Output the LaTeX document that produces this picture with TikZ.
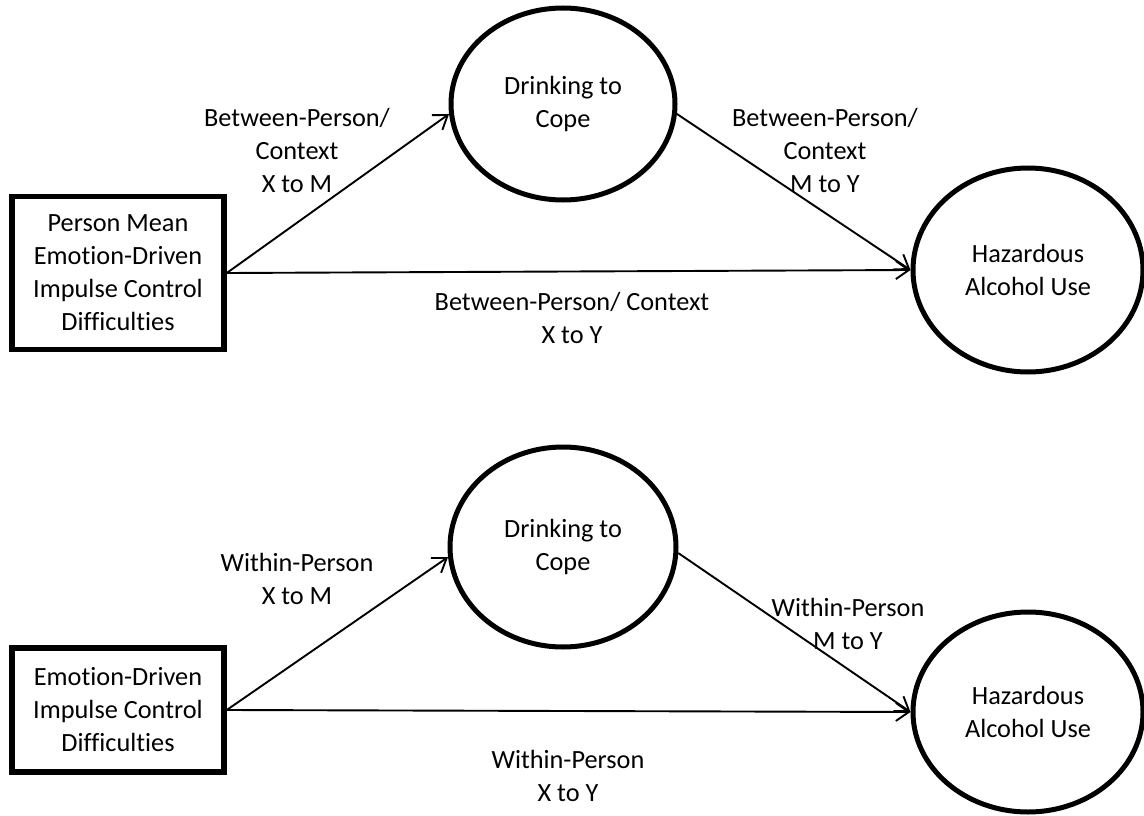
\documentclass[tikz,border=0pt]{standalone}
\usepackage{fontspec}
\setmainfont{Carlito}[Ligatures={NoCommon}]
\usetikzlibrary{shapes.geometric,arrows.meta}
\begin{document}
\begin{tikzpicture}[x=1pt,y=-1pt,
  txt/.style={font=\fontsize{26.3}{33}\selectfont, align=center},
  oval/.style={ellipse, draw, line width=5pt, inner sep=0pt, txt},
  boxnode/.style={rectangle, draw, line width=5.5pt, inner sep=0pt, txt},
  path/.style={line width=1.9pt, -{Straight Barb[length=13pt,width=18pt,line width=1.9pt]}},
  lbl/.style={txt}]
\useasboundingbox (0,0) rectangle (1144,816);
% top model
\node[boxnode, minimum width=212pt, minimum height=153pt] (bx1) at (118,273) {Person Mean\\Emotion-Driven\\Impulse Control\\Difficulties};
\node[oval, minimum width=224pt, minimum height=192pt] (dc1) at (563,104) {Drinking to\\Cope};
\node[oval, minimum width=230pt, minimum height=204pt] (ha1) at (1028,270) {Hazardous\\Alcohol Use};
\draw[path] (bx1.east) -- (dc1.185);
\draw[path] (dc1.355) -- (ha1.west);
\draw[path] (bx1.east) -- (ha1.west);
\node[lbl] (l1) at (297,150) {Between-Person/\\Context\\X to M};
\node[lbl] (l2) at (825,150) {Between-Person/\\Context\\M to Y};
\node[lbl] (l3) at (572,318) {Between-Person/ Context\\X to Y};
% bottom model
\node[boxnode, minimum width=212pt, minimum height=124pt] (bx2) at (118,710) {Emotion-Driven\\Impulse Control\\Difficulties};
\node[oval, minimum width=226pt, minimum height=200pt] (dc2) at (563,547) {Drinking to\\Cope};
\node[oval, minimum width=230pt, minimum height=200pt] (ha2) at (1028,712) {Hazardous\\Alcohol Use};
\draw[path] (bx2.east) -- (dc2.185);
\draw[path] (dc2.357) -- (ha2.west);
\draw[path] (bx2.east) -- (ha2.west);
\node[lbl] (l4) at (297,579) {Within-Person\\X to M};
\node[lbl] (l5) at (848,624) {Within-Person\\M to Y};
\node[lbl] (l6) at (568,776) {Within-Person\\X to Y};
\end{tikzpicture}
\end{document}
